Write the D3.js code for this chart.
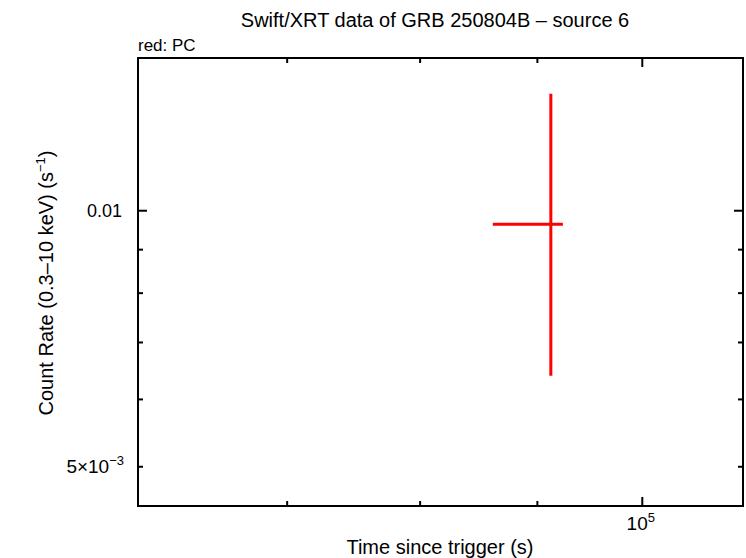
<!DOCTYPE html>
<html>
<head>
<meta charset="utf-8">
<script src="https://cdn.jsdelivr.net/npm/d3@7"></script>
<style>
	body { margin: 0; background: #fff; }
	text { font-family: "Liberation Sans", Arial, sans-serif; fill: #000; }
</style>
</head>
<body>
<div class="chart"></div>
<script>
// data
var times = [91270];
var timeLo = [86100];
var timeHi = [92380];
var rates = [0.00963];
var rateLo = [0.00639];
var rateHi = [0.01371];

var xMajorTicks = [1e5];
var xMinorTicks = [7e4, 8e4, 9e4];
var yMajorTicks = [0.01];
var yMinorTicks = [5e-3, 6e-3, 7e-3, 8e-3, 9e-3];

var W = 746, H = 558;
var margin = { top: 58, right: 3, bottom: 52, left: 138 };
var width = W - margin.left - margin.right;
var height = H - margin.top - margin.bottom;

var svg = d3.select('.chart')
	.append('svg')
	.attr('width', W)
	.attr('height', H);

var g = svg.append('g')
	.attr('transform', 'translate(' + margin.left + ',' + margin.top + ')');

var x = d3.scaleLog()
	.domain([60290, 110700])
	.range([0, width]);

var y = d3.scaleLog()
	.domain([4.49e-3, 0.0151])
	.range([height, 0]);

//axes, ticks pointing inward on all four sides
function drawAxis(axisFn, scale, values, size, transform) {
	var a = g.append('g')
		.attr('transform', transform)
		.call(axisFn(scale).tickValues(values).tickSize(size).tickSizeOuter(0).tickFormat(''));
	a.select('.domain').remove();
	a.selectAll('line').attr('stroke', '#000').attr('stroke-width', 2);
}

drawAxis(d3.axisBottom, x, xMajorTicks, -9, 'translate(0,' + height + ')');
drawAxis(d3.axisBottom, x, xMinorTicks, -5, 'translate(0,' + height + ')');
drawAxis(d3.axisTop, x, xMajorTicks, -9, 'translate(0,0)');
drawAxis(d3.axisTop, x, xMinorTicks, -5, 'translate(0,0)');
drawAxis(d3.axisLeft, y, yMajorTicks, -9, 'translate(0,0)');
drawAxis(d3.axisLeft, y, yMinorTicks, -5, 'translate(0,0)');
drawAxis(d3.axisRight, y, yMajorTicks, -9, 'translate(' + width + ',0)');
drawAxis(d3.axisRight, y, yMinorTicks, -5, 'translate(' + width + ',0)');

g.append('rect')
	.attr('width', width)
	.attr('height', height)
	.attr('fill', 'none')
	.attr('stroke', '#000')
	.attr('stroke-width', 2);

//tick labels
g.append('text')
	.attr('x', -16)
	.attr('y', y(0.01) + 7)
	.attr('text-anchor', 'end')
	.style('font-size', '18px')
	.text('0.01');

var l5 = g.append('text')
	.attr('x', -14)
	.attr('y', y(5e-3) + 7)
	.attr('text-anchor', 'end')
	.style('font-size', '19px');
l5.append('tspan').text('5×10');
l5.append('tspan').attr('dy', -8).style('font-size', '13px').text('−3');

var l10 = g.append('text')
	.attr('x', x(1e5) - 1)
	.attr('y', height + 24)
	.attr('text-anchor', 'middle')
	.style('font-size', '19px');
l10.append('tspan').text('10');
l10.append('tspan').attr('dy', -8).style('font-size', '13px').text('5');

//titles
svg.append('text')
	.attr('x', 435)
	.attr('y', 27)
	.attr('text-anchor', 'middle')
	.style('font-size', '20px')
	.text('Swift/XRT data of GRB 250804B \u2013 source 6');

svg.append('text')
	.attr('x', 138)
	.attr('y', 51)
	.style('font-size', '17px')
	.text('red: PC');

svg.append('text')
	.attr('x', 440)
	.attr('y', 554)
	.attr('text-anchor', 'middle')
	.style('font-size', '20px')
	.text('Time since trigger (s)');

var yt = svg.append('text')
	.attr('transform', 'translate(53,283) rotate(-90)')
	.attr('text-anchor', 'middle')
	.style('font-size', '20px');
yt.append('tspan').text('Count Rate (0.3\u201310 keV) (s');
yt.append('tspan').attr('dy', -8).style('font-size', '13px').text('\u22121');
yt.append('tspan').attr('dy', 8).text(')');

//error bars
var pts = times.map(function (t, i) {
	return { t: t, lo: timeLo[i], hi: timeHi[i], r: rates[i], rlo: rateLo[i], rhi: rateHi[i] };
});

var bars = g.append('g').attr('class', 'points');

bars.selectAll('.xerr')
	.data(pts)
	.enter().append('line')
	.attr('x1', function (d) { return x(d.lo); })
	.attr('x2', function (d) { return x(d.hi); })
	.attr('y1', function (d) { return y(d.r); })
	.attr('y2', function (d) { return y(d.r); })
	.attr('stroke', '#ff0000')
	.attr('stroke-width', 3);

bars.selectAll('.yerr')
	.data(pts)
	.enter().append('line')
	.attr('x1', function (d) { return x(d.t); })
	.attr('x2', function (d) { return x(d.t); })
	.attr('y1', function (d) { return y(d.rlo); })
	.attr('y2', function (d) { return y(d.rhi); })
	.attr('stroke', '#ff0000')
	.attr('stroke-width', 3);
</script>
</body>
</html>
